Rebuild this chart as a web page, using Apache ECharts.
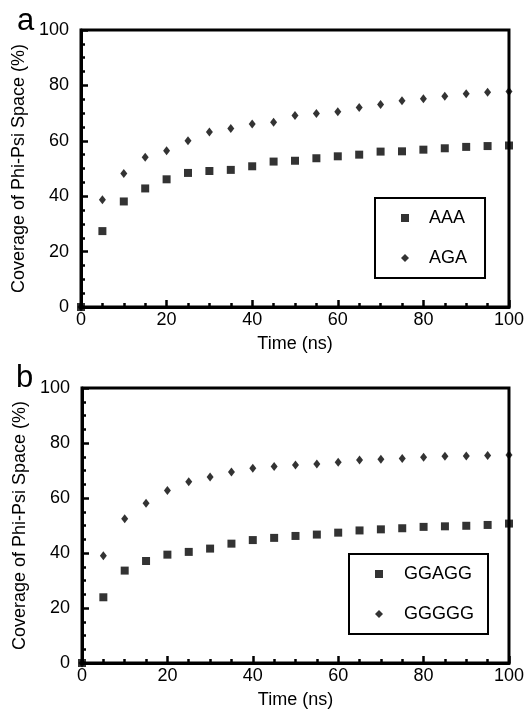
<!DOCTYPE html>
<html>
<head>
<meta charset="utf-8">
<script src="https://cdn.jsdelivr.net/npm/echarts@6/dist/echarts.min.js"></script>
<style>
html, body { margin: 0; padding: 0; background: #fff; }
#main { width: 527px; height: 713px; }
</style>
</head>
<body>
<div id="main"></div>
<script>
var times = [0, 5, 10, 15, 20, 25, 30, 35, 40, 45, 50, 55, 60, 65, 70, 75, 80, 85, 90, 95, 100];
var aaa = [0, 27.4, 38.1, 42.8, 46.1, 48.4, 49.1, 49.5, 50.8, 52.5, 52.8, 53.7, 54.4, 55.0, 56.1, 56.2, 56.8, 57.3, 57.8, 58.1, 58.3];
var aga = [0, 38.7, 48.2, 54.1, 56.4, 60.0, 63.2, 64.4, 66.1, 66.7, 69.1, 69.9, 70.5, 72.0, 73.1, 74.5, 75.2, 76.1, 77.0, 77.5, 77.8];
var ggagg = [0, 23.9, 33.6, 37.1, 39.4, 40.4, 41.6, 43.4, 44.7, 45.5, 46.2, 46.7, 47.4, 48.2, 48.6, 49.0, 49.5, 49.7, 49.9, 50.2, 50.7];
var ggggg = [0, 39.0, 52.5, 58.1, 62.7, 65.9, 67.6, 69.5, 70.8, 71.5, 72.0, 72.4, 73.0, 73.8, 74.1, 74.4, 74.8, 75.2, 75.3, 75.5, 75.6];

var font = 'Liberation Sans, Arial, sans-serif';

function pairs(ys) {
    var out = [];
    for (var i = 0; i < times.length; i++) {
        out.push([times[i], ys[i]]);
    }
    return out;
}

function xAxisFor(idx) {
    return {
        gridIndex: idx, type: 'value', min: 0, max: 100, interval: 20,
        name: 'Time (ns)', nameLocation: 'middle', nameGap: 28,
        nameTextStyle: {color: '#000', fontSize: 18, fontFamily: font},
        axisLine: {show: true, lineStyle: {color: '#000', width: 3}},
        axisTick: {show: true, inside: true, length: 7, lineStyle: {color: '#000', width: 2.5}},
        minorTick: {show: true, splitNumber: 4, length: 4, lineStyle: {color: '#000', width: 2.5}},
        axisLabel: {color: '#000', fontSize: 18, fontFamily: font, margin: 4},
        splitLine: {show: false}
    };
}

function yAxisFor(idx) {
    return {
        gridIndex: idx, type: 'value', min: 0, max: 100, interval: 20,
        name: 'Coverage of Phi-Psi Space (%)', nameLocation: 'middle', nameGap: 48,
        nameTextStyle: {color: '#000', fontSize: 18, fontFamily: font},
        axisLine: {show: true, lineStyle: {color: '#000', width: 3}},
        axisTick: {show: true, inside: true, length: 7, lineStyle: {color: '#000', width: 2.5}},
        minorTick: {show: true, splitNumber: 4, length: 4, lineStyle: {color: '#000', width: 2.5}},
        axisLabel: {color: '#000', fontSize: 18, fontFamily: font, margin: 12},
        splitLine: {show: false}
    };
}

function scatter(name, idx, ys, symbol, size) {
    return {
        name: name, type: 'scatter', xAxisIndex: idx, yAxisIndex: idx,
        data: pairs(ys), symbol: symbol, symbolSize: size, clip: false,
        itemStyle: {color: '#000'}
    };
}

var chart = echarts.init(document.getElementById('main'));
chart.setOption({
    backgroundColor: '#fff',
    animation: false,
    title: [
        {text: 'a', left: 12, top: 1, textStyle: {fontSize: 31, fontWeight: 'normal', color: '#000', fontFamily: font}},
        {text: 'b', left: 11, top: 358, textStyle: {fontSize: 31, fontWeight: 'normal', color: '#000', fontFamily: font}}
    ],
    grid: [
        {left: 81, top: 30, width: 429, height: 277, show: true, borderColor: '#000', borderWidth: 3},
        {left: 82, top: 388, width: 429, height: 275, show: true, borderColor: '#000', borderWidth: 3}
    ],
    legend: [
        {
            data: [{name: 'AAA', icon: 'rect'}, {name: 'AGA', icon: 'diamond'}],
            orient: 'vertical', left: 375, top: 198,
            padding: [11, 18, 11, 26], itemGap: 22, itemWidth: 8, itemHeight: 8,
            borderColor: '#000', borderWidth: 2,
            textStyle: {color: '#000', fontSize: 18, fontFamily: font, padding: [0, 0, 0, 15]}
        },
        {
            data: [{name: 'GGAGG', icon: 'rect'}, {name: 'GGGGG', icon: 'diamond'}],
            orient: 'vertical', left: 349, top: 554,
            padding: [11, 14, 11, 26], itemGap: 22, itemWidth: 8, itemHeight: 8,
            borderColor: '#000', borderWidth: 2,
            textStyle: {color: '#000', fontSize: 18, fontFamily: font, padding: [0, 0, 0, 16]}
        }
    ],
    xAxis: [xAxisFor(0), xAxisFor(1)],
    yAxis: [yAxisFor(0), yAxisFor(1)],
    series: [
        scatter('AAA', 0, aaa, 'rect', 8),
        scatter('AGA', 0, aga, 'diamond', [7, 9]),
        scatter('GGAGG', 1, ggagg, 'rect', 8),
        scatter('GGGGG', 1, ggggg, 'diamond', [7, 9])
    ]
});
</script>
</body>
</html>
